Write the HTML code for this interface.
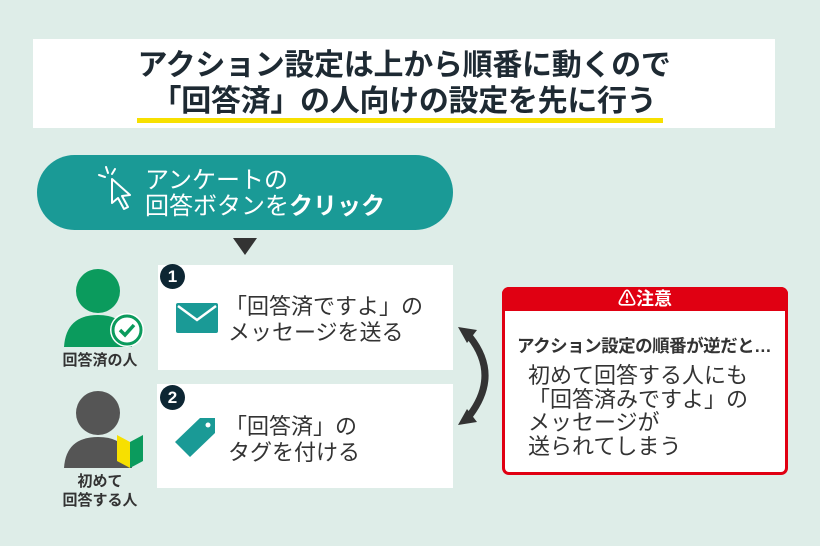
<!DOCTYPE html>
<html><head><meta charset="utf-8"><style>
*{margin:0;padding:0;box-sizing:border-box}
body{width:820px;height:546px;background:#deede8;position:relative;overflow:hidden;font-family:"Liberation Sans","Noto Sans CJK JP",sans-serif;color:#2a2a2a}
.abs{position:absolute}
.title{left:33px;top:39px;width:742px;height:89px;background:#fff}
.t{position:absolute;left:0;width:100%;text-align:center;font-weight:bold;font-size:30px;color:#1e2a33;line-height:34px;letter-spacing:-0.3px}
.box{background:#fff}
.bt{font-size:22px;line-height:25px;color:#333;white-space:nowrap}
.badge{width:25px;height:25px;border-radius:50%;background:#0d2633;color:#fff;font-weight:bold;font-size:17px;text-align:center;line-height:25px}
.lab{font-size:15px;font-weight:bold;color:#333;text-align:center;line-height:19px}
</style></head><body>
<div class="abs title">
 <div class="t" style="top:10px">アクション設定は上から順番に動くので</div>
 <div class="t" style="top:46px">「回答済」の人向けの設定を先に行う</div>
 <div class="abs" style="left:104px;top:79px;width:526px;height:5px;background:#f7e000"></div>
</div>

<div class="abs" style="left:37px;top:155px;width:416px;height:75px;border-radius:38px;background:#1a9a96"></div>
<svg class="abs" style="left:95px;top:165px" width="45" height="55" viewBox="0 0 45 55">
 <g stroke="#fff" stroke-width="2" fill="none" stroke-linecap="round">
  <line x1="4" y1="10" x2="10" y2="12"/><line x1="11" y1="2" x2="13" y2="8"/><line x1="20" y1="4" x2="17" y2="9"/>
  <path d="M17 14 L35 30 L27 31 L33 42 L29 44 L23 33 L17 38 Z" stroke-linejoin="round"/>
 </g>
</svg>
<div class="abs bt" style="left:145px;top:168px;color:#fff;font-size:24px;line-height:26px">アンケートの</div>
<div class="abs bt" style="left:145px;top:194px;color:#fff;font-size:24px;line-height:26px">回答ボタンを<b>クリック</b></div>
<div class="abs" style="left:233px;top:238px;width:0;height:0;border-left:12px solid transparent;border-right:12px solid transparent;border-top:17px solid #333"></div>

<div class="abs box" style="left:158px;top:265px;width:295px;height:105px"></div>
<div class="abs badge" style="left:160px;top:264px">1</div>
<svg class="abs" style="left:176px;top:303px" width="42" height="30"><rect width="42" height="30" rx="2" fill="#1a9a96"/><path d="M2 3 L21 17 L40 3" stroke="#fff" stroke-width="2.5" fill="none"/></svg>
<div class="abs bt" style="left:225px;top:294px">「回答済ですよ」の</div>
<div class="abs bt" style="left:228px;top:320px">メッセージを送る</div>

<div class="abs box" style="left:157px;top:384px;width:296px;height:104px"></div>
<div class="abs badge" style="left:160px;top:385px">2</div>
<svg class="abs" style="left:174px;top:416px" width="44" height="42" viewBox="0 0 44 42"><path d="M26 2 L41 2 L41 17 L16 41 L1 26 Z" fill="#1a9a96" stroke-linejoin="round"/><circle cx="34" cy="9" r="2.5" fill="#fff"/></svg>
<div class="abs bt" style="left:225px;top:414px">「回答済」の</div>
<div class="abs bt" style="left:228px;top:440px">タグを付ける</div>

<svg class="abs" style="left:55px;top:266px" width="100" height="89">
 <circle cx="43" cy="25" r="22" fill="#0b9b5d"/>
 <path d="M9 81 Q11 49 43 49 Q75 49 77 81 Z" fill="#0b9b5d"/>
 <circle cx="72" cy="64" r="17" fill="#fff"/><circle cx="72" cy="64" r="14" fill="none" stroke="#0b9b5d" stroke-width="3"/>
 <path d="M65 64 L70 69 L79 59" stroke="#0b9b5d" stroke-width="3.5" fill="none"/>
</svg>
<div class="abs lab" style="left:50px;top:351px;width:100px">回答済の人</div>

<svg class="abs" style="left:55px;top:390px" width="100" height="80">
 <circle cx="43" cy="23" r="22" fill="#555"/>
 <path d="M9 78 Q11 47 43 47 Q75 47 77 78 Z" fill="#555"/>
 <path d="M62 45 L75 52 L75 78 L62 71 Z" fill="#f7e000"/><path d="M75 52 L88 45 L88 71 L75 78 Z" fill="#0b9b5d"/>
</svg>
<div class="abs lab" style="left:50px;top:472px;width:100px">初めて<br>回答する人</div>

<svg class="abs" style="left:455px;top:325px" width="50" height="102" viewBox="0 0 50 102">
 <path d="M15 12 Q45 50 15 90" stroke="#333" stroke-width="7" fill="none"/>
 <path d="M3 2 L22 5 L12 18 Z" fill="#333"/>
 <path d="M3 100 L22 97 L12 84 Z" fill="#333"/>
</svg>

<div class="abs" style="left:502px;top:287px;width:286px;height:188px;border:3px solid #e00012;border-radius:7px;background:#fff"></div>
<div class="abs" style="left:502px;top:287px;width:286px;height:24px;background:#e00012;border-radius:7px 7px 0 0;color:#fff;font-weight:bold;font-size:18px;text-align:center;line-height:24px">⚠注意</div>
<div class="abs" style="left:517px;top:333px;font-size:17.5px;font-weight:bold;color:#333;white-space:nowrap;letter-spacing:-0.5px">アクション設定の順番が逆だと…</div>
<div class="abs" style="left:528px;top:364px;font-size:22px;line-height:23.5px;color:#333;white-space:nowrap">初めて回答する人にも<br>「回答済みですよ」の<br>メッセージが<br>送られてしまう</div>
</body></html>
